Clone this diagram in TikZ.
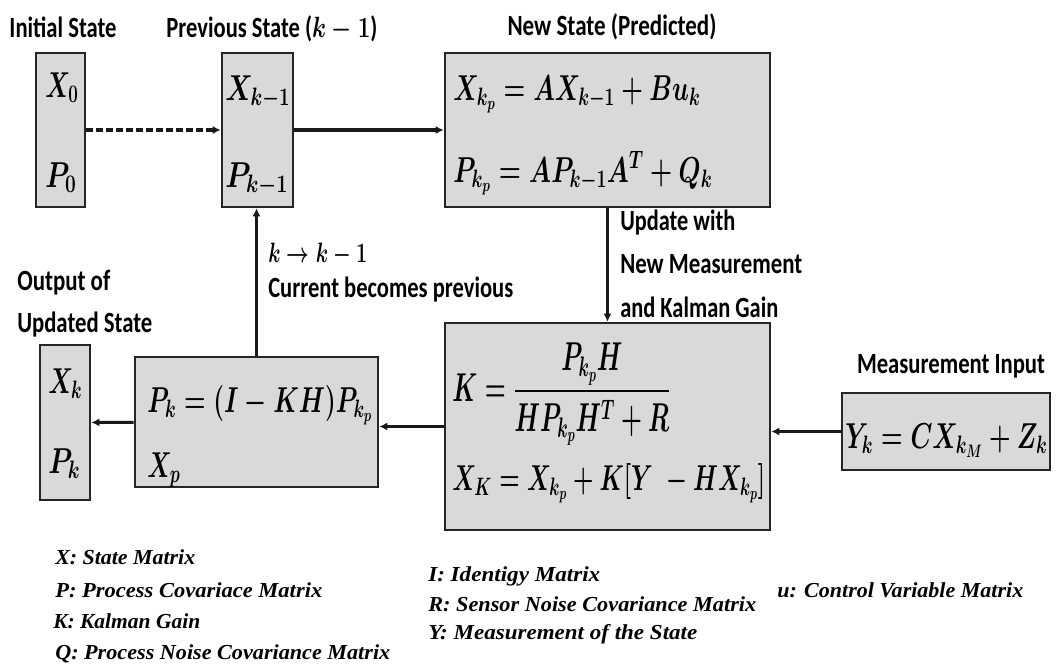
\RequirePackage{fix-cm}
\documentclass[tikz,border=0pt]{standalone}
\usepackage{amsmath}
\usepackage{graphicx}
\usepackage{fontspec}
\setmainfont{Carlito}
\newfontfamily\legfont{Liberation Serif}
\usetikzlibrary{arrows.meta,fit}
\newdimen\pxu \pxu=0.75pt
\newcommand\fw[2]{\resizebox{#1\pxu}{\height}{#2}}
\tikzset{
  box/.style={draw=black!85, fill=black!15, line width=1.9pt, inner sep=0pt},
  lbl/.style={inner sep=0pt, anchor=base, font=\fontsize{22}{26}\selectfont\bfseries\boldmath},
  lblw/.style={lbl, anchor=base west},
  mth/.style={inner sep=0pt, anchor=base west, font=\fontsize{27}{31}\selectfont\boldmath},
  leg/.style={inner sep=0pt, anchor=base west, font=\legfont\fontsize{16}{18}\selectfont\bfseries\itshape},
  conn/.style={line width=2.3pt, draw=black!90, -{Latex[length=6pt,width=6pt]}}
}
\begin{document}
\begin{tikzpicture}[x=0.75pt,y=-0.75pt]
\useasboundingbox (0,0) rectangle (1057,671);
% boxes
\node[box, fit={(36,53)(85,207)}] (init) {};
\node[box, fit={(222,53)(293,207)}] (prev) {};
\node[box, fit={(445,53)(770,207)}] (new) {};
\node[box, fit={(40,345)(90,500)}] (out) {};
\node[box, fit={(135,357)(378,487)}] (upd) {};
\node[box, fit={(445,323)(770,530)}] (kal) {};
\node[box, fit={(842,393)(1050,470)}] (meas) {};
% titles
\node[lbl] (tinit) at (63,37) {\fw{107}{Initial State}};
\node[lbl] (tprev) at (272,37) {\fw{211}{Previous State ($k-1$)}};
\node[lbl] (tnew) at (612,36) {\fw{209}{New State (Predicted)}};
\node[lblw] (tout1) at (17,290) {\fw{93}{Output of}};
\node[lblw] (tout2) at (17,332) {\fw{135}{Updated State}};
\node[lbl] (tmeas) at (951,373) {\fw{188}{Measurement Input}};
\node[lblw] (tupd1) at (620,230) {\fw{115}{Update with}};
\node[lblw] (tupd2) at (620,273) {\fw{182}{New Measurement}};
\node[lblw] (tupd3) at (620,317) {\fw{158}{and Kalman Gain}};
\node[lblw, font=\fontsize{21}{24}\selectfont\boldmath] (tk) at (268,262) {\fw{99}{$k\rightarrow k-1$}};
\node[lblw] (tcur) at (268,297) {\fw{245}{Current becomes previous}};
% math in boxes
\node[mth] (x0) at (45,97) {\fw{33}{$X_0$}};
\node[mth] (p0) at (45,187) {\fw{31}{$P_0$}};
\node[mth] (xk1) at (225,100) {\fw{65}{$X_{k-1}$}};
\node[mth] (pk1) at (225,187) {\fw{63}{$P_{k-1}$}};
\node[mth] (xkp) at (453,100) {\fw{247}{$X_{k_p}=AX_{k-1}+Bu_k$}};
\node[mth] (pkp) at (453,182) {\fw{259}{$P_{k_p}=AP_{k-1}A^T+Q_k$}};
\node[mth] (pk) at (147,412) {\fw{225}{$P_k=(I-KH)P_{k_p}$}};
\node[mth] (xp) at (147,477) {\fw{33}{$X_p$}};
\node[mth] (xk) at (48,393) {\fw{34}{$X_k$}};
\node[mth] (pko) at (48,473) {\fw{32}{$P_k$}};
\node[mth] (kf) at (452,401) {\resizebox{218\pxu}{1.12\height}{$K=\dfrac{P_{k_p}H}{HP_{k_p}H^T+R}$}};
\node[mth] (xK) at (452,490) {\fw{313}{$X_K=X_{k_p}+K[Y\;-HX_{k_p}]$}};
\node[mth] (yk) at (845,448) {\fw{202}{$Y_k=CX_{k_M}+Z_k$}};
% legend
\node[leg] (l1) at (55,564) {\fw{140}{X: State Matrix}};
\node[leg] (l2) at (55,597) {\fw{267}{P: Process Covariace Matrix}};
\node[leg] (l3) at (53,628) {\fw{147}{K: Kalman Gain}};
\node[leg] (l4) at (55,659) {\fw{335}{Q: Process Noise Covariance Matrix}};
\node[leg] (l5) at (428,581) {\fw{172}{I: Identigy Matrix}};
\node[leg] (l6) at (428,611) {\fw{328}{R: Sensor Noise Covariance Matrix}};
\node[leg] (l7) at (428,639) {\fw{269}{Y: Measurement of the State}};
\node[leg] (l8) at (777,597) {\fw{246}{u: Control Variable Matrix}};
% connectors
\draw[conn, dash pattern=on 5pt off 2.5pt] (init) -- (prev);
\draw[conn] (prev) -- (new);
\draw[conn] (new) -- (kal);
\draw[conn] (kal.west) -- (kal.west -| upd.east);
\draw[conn] (upd) -- (out);
\draw[conn] (meas) -- (meas.west -| kal.east);
\draw[conn] (upd.north) -- (upd.north |- prev.south);
\end{tikzpicture}
\end{document}
